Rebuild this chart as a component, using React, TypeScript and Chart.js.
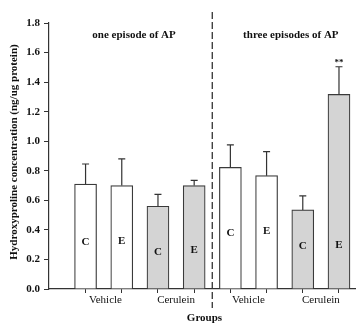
import { useEffect, useRef } from "react";
import { Chart, registerables } from "chart.js";

Chart.register(...registerables);

const barLetters = ["C", "E", "C", "E", "C", "E", "C", "E"];
const means = [0.71, 0.70, 0.56, 0.70, 0.823, 0.767, 0.535, 1.317];
const errTops = [0.846, 0.88, 0.64, 0.735, 0.975, 0.93, 0.63, 1.504];
const letterY = [0.318, 0.325, 0.25, 0.264, 0.379, 0.392, 0.29, 0.30];
const fills = ["#ffffff", "#ffffff", "#d4d4d4", "#d4d4d4", "#ffffff", "#ffffff", "#d4d4d4", "#d4d4d4"];
const groupLabels = ["Vehicle", "Cerulein", "Vehicle", "Cerulein"];
const groupLabelPos = [0.55, 2.5, 4.5, 6.5];
const episodeLabels = ["one episode of AP", "three episodes of AP"];
const episodePos = [1.34, 5.67];
const yTicks = [0, 0.2, 0.4, 0.6, 0.8, 1.0, 1.2, 1.4, 1.6, 1.8];
const significance = ["", "", "", "", "", "", "", "**"];

const SERIF = "'Liberation Serif', 'DejaVu Serif', serif";

const overlay = {
  id: "overlay",
  afterDatasetsDraw(chart: any) {
    const { ctx, scales, chartArea } = chart;
    const xs = scales.x;
    const ys = scales.y;
    ctx.save();
    // error bars
    ctx.strokeStyle = "#333";
    ctx.lineWidth = 1.2;
    means.forEach((m, i) => {
      const x = xs.getPixelForValue(i);
      const y0 = ys.getPixelForValue(m);
      const y1 = ys.getPixelForValue(errTops[i]);
      ctx.beginPath();
      ctx.moveTo(x, y0);
      ctx.lineTo(x, y1);
      ctx.moveTo(x - 3.5, y1);
      ctx.lineTo(x + 3.5, y1);
      ctx.stroke();
    });
    // letters in bars
    ctx.fillStyle = "#111";
    ctx.textAlign = "center";
    ctx.textBaseline = "middle";
    ctx.font = "bold 11px " + SERIF;
    barLetters.forEach((l, i) => {
      ctx.fillText(l, xs.getPixelForValue(i), ys.getPixelForValue(letterY[i]));
    });
    // significance
    ctx.font = "bold 9px " + SERIF;
    significance.forEach((s, i) => {
      if (s) ctx.fillText(s, xs.getPixelForValue(i), ys.getPixelForValue(errTops[i]) - 4);
    });
    // group labels
    ctx.font = "11px " + SERIF;
    groupLabels.forEach((g, i) => {
      ctx.fillText(g, xs.getPixelForValue(groupLabelPos[i]), 300);
    });
    // episode headers
    ctx.font = "bold 11px " + SERIF;
    episodeLabels.forEach((e, i) => {
      ctx.fillText(e, xs.getPixelForValue(episodePos[i]), 35);
    });
    // x title
    ctx.font = "bold 11px " + SERIF;
    ctx.fillText("Groups", (chartArea.left + chartArea.right) / 2 + 2, 318);
    // y title
    ctx.save();
    ctx.translate(14, (chartArea.top + chartArea.bottom) / 2 - 4);
    ctx.rotate(-Math.PI / 2);
    ctx.font = "bold 11px " + SERIF;
    ctx.fillText("Hydroxyproline concentration (ng/ug protein)", 0, 0);
    ctx.restore();
    // dashed divider
    const dx = xs.getPixelForValue(3.5);
    ctx.strokeStyle = "#333";
    ctx.lineWidth = 1.3;
    ctx.setLineDash([7, 3]);
    ctx.beginPath();
    ctx.moveTo(dx, 12);
    ctx.lineTo(dx, 308);
    ctx.stroke();
    ctx.restore();
  },
};

export default function App() {
  const ref = useRef<HTMLCanvasElement | null>(null);
  useEffect(() => {
    if (!ref.current) return;
    const chart = new Chart(ref.current, {
      type: "bar",
      data: {
        datasets: [
          {
            data: means.map((m, i) => ({ x: i, y: m })),
            backgroundColor: fills,
            borderColor: "#3a3a3a",
            borderWidth: 1.2,
            barThickness: 22,
          } as any,
        ],
      },
      options: {
        animation: false,
        responsive: false,
        layout: { padding: { top: 23, right: 0, left: 0, bottom: 0 } },
        plugins: { legend: { display: false }, tooltip: { enabled: false } },
        scales: {
          x: {
            type: "linear",
            offset: false,
            min: -1.01,
            max: 7.47,
            afterBuildTicks: (s: any) => {
              s.ticks = means.map((_, i) => ({ value: i }));
            },
            afterFit: (s: any) => {
              s.height = 34;
            },
            ticks: { callback: () => "", font: { size: 1 } },
            grid: { drawOnChartArea: false, tickLength: 4, color: "#333", offset: false },
            border: { color: "#333", width: 1.2 },
          },
          y: {
            min: 0,
            max: 1.8,
            afterBuildTicks: (s: any) => {
              s.ticks = yTicks.map((v) => ({ value: v }));
            },
            afterFit: (s: any) => {
              s.width = 49;
              s.paddingTop = 0;
            },
            ticks: {
              color: "#111",
              padding: 4,
              font: { family: SERIF, size: 11, weight: "bold" },
              callback: (v: any) => Number(v).toFixed(1),
            },
            grid: { drawOnChartArea: false, tickLength: 5, color: "#333" },
            border: { color: "#333", width: 1.2 },
          },
        },
      },
      plugins: [overlay],
    });
    return () => chart.destroy();
  }, []);
  return (
    <div style={{ position: "fixed", left: 0, top: 0, width: 356, height: 323, background: "#fff" }}>
      <canvas ref={ref} width={356} height={323} />
    </div>
  );
}
